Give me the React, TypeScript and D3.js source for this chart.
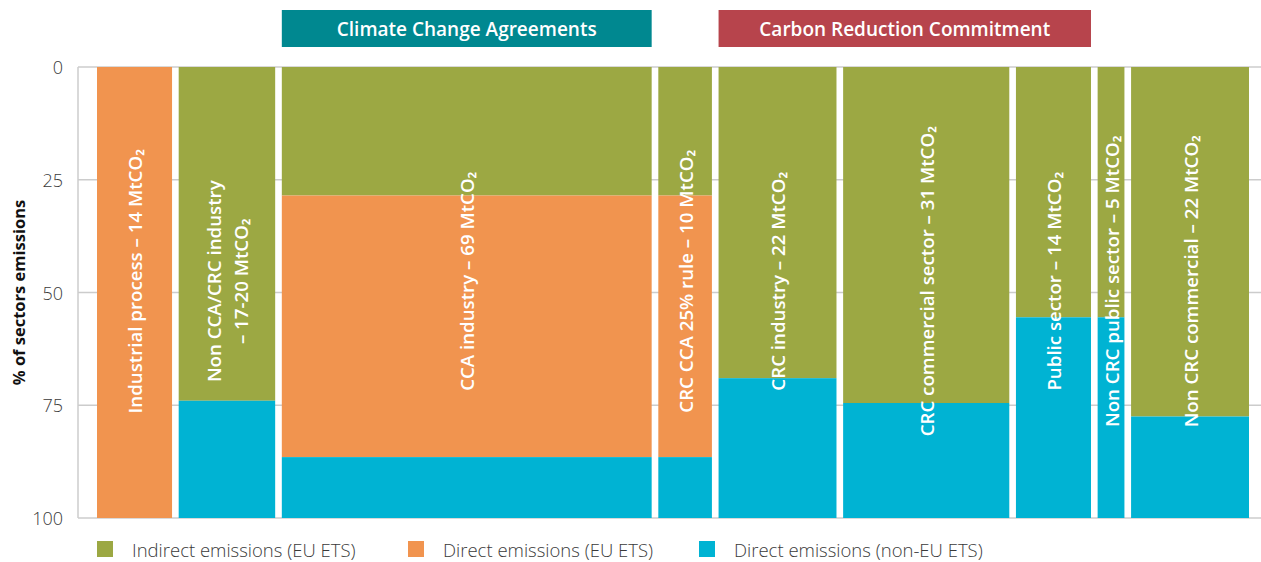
import React from "react";
import * as d3 from "d3";

const categories = [
  ["Industrial process – 14 MtCO₂"],
  ["Non CCA/CRC industry", "– 17-20 MtCO₂"],
  ["CCA industry – 69 MtCO₂"],
  ["CRC CCA 25% rule – 10 MtCO₂"],
  ["CRC industry – 22 MtCO₂"],
  ["CRC commercial sector – 31 MtCO₂"],
  ["Public sector – 14 MtCO₂"],
  ["Non CRC public sector – 5 MtCO₂"],
  ["Non CRC commercial – 22 MtCO₂"],
];
const emissionsMt = [14, 18, 69, 10, 22, 31, 14, 5, 22];
const indirectEU = [0, 74, 28.5, 28.5, 69, 74.5, 55.5, 55.5, 77.5];
const directEU = [100, 0, 58, 58, 0, 0, 0, 0, 0];
const directNonEU = [0, 26, 13.5, 13.5, 31, 25.5, 44.5, 44.5, 22.5];
const yTicks = [0, 25, 50, 75, 100];
const seriesNames = ["Indirect emissions (EU ETS)", "Direct emissions (EU ETS)", "Direct emissions (non-EU ETS)"];
const seriesColors = ["#9ca843", "#f1944f", "#00b3d3"];
const groups = [
  { name: "Climate Change Agreements", from: 2, to: 2, color: "#008890" },
  { name: "Carbon Reduction Commitment", from: 4, to: 6, color: "#b7444c" },
];

const W = 1261, H = 562;
const plotLeft = 78, plotRight = 1261, top = 67, bottom = 518;
const barsLeft = 97, barsRight = 1249;
const gapMt = 1.24;

export default function App() {
  const total = d3.sum(emissionsMt) + gapMt * (emissionsMt.length - 1);
  const x = d3.scaleLinear().domain([0, total]).range([barsLeft, barsRight]);
  const y = d3.scaleLinear().domain([0, 100]).range([top, bottom]);

  const starts: number[] = [];
  let acc = 0;
  emissionsMt.forEach((w) => { starts.push(acc); acc += w + gapMt; });

  const rows = emissionsMt.map((_, i) => ({
    indirect: indirectEU[i], direct: directEU[i], nonEU: directNonEU[i],
  }));
  const stack = d3.stack<any>().keys(["indirect", "direct", "nonEU"])(rows);

  const font = "'Open Sans', 'Noto Sans', sans-serif";
  const legendX = [97, 408, 699];

  return (
    <svg width={W} height={H} style={{ position: "absolute", left: 0, top: 0, fontFamily: font }}>
      <rect width={W} height={H} fill="#fff" />
      {groups.map((g) => {
        const x0 = x(starts[g.from]);
        const x1 = x(starts[g.to] + emissionsMt[g.to]);
        return (
          <g key={g.name}>
            <rect x={x0} y={10} width={x1 - x0} height={37} fill={g.color} />
            <text x={(x0 + x1) / 2} y={28.5} textAnchor="middle" dominantBaseline="central"
              fill="#fff" fontSize={19} fontWeight={600}>{g.name}</text>
          </g>
        );
      })}
      {yTicks.map((t) => (
        <g key={t}>
          <line x1={plotLeft} x2={plotRight} y1={y(t)} y2={y(t)} stroke="#cccccc" strokeWidth={1.5} />
          <text x={63} y={y(t)} textAnchor="end" dominantBaseline="central" fontSize={18}
            fontWeight={300} fill="#3a3a3a">{t}</text>
        </g>
      ))}
      <line x1={plotLeft} x2={plotLeft} y1={top} y2={bottom} stroke="#cccccc" strokeWidth={1.5} />
      {stack.map((s, si) => (
        <g key={si} fill={seriesColors[si]}>
          {s.map((d, i) => (
            d[1] - d[0] > 0 ? (
              <rect key={i} x={x(starts[i])} width={x(starts[i] + emissionsMt[i]) - x(starts[i])}
                y={y(d[0])} height={y(d[1]) - y(d[0])} />
            ) : null
          ))}
        </g>
      ))}
      {categories.map((lines, i) => {
        const cx = (x(starts[i]) + x(starts[i] + emissionsMt[i])) / 2;
        const cy = y(47.5);
        return (
          <g key={i} transform={`translate(${cx},${cy}) rotate(-90)`}>
            {lines.map((l, li) => (
              <text key={li} x={0} y={(li - (lines.length - 1) / 2) * 26.5} textAnchor="middle"
                dominantBaseline="central" fill="#fff" fontSize={18.7} fontWeight={600}>{l}</text>
            ))}
          </g>
        );
      })}
      <text transform={`translate(18,${y(50)}) rotate(-90)`} textAnchor="middle" dominantBaseline="central"
        fontSize={16.5} fontWeight={700} fill="#111">% of sectors emissions</text>
      {seriesNames.map((n, i) => (
        <g key={n}>
          <rect x={legendX[i]} y={541} width={16} height={16} fill={seriesColors[i]} />
          <text x={legendX[i] + 35} y={549.5} dominantBaseline="central" fontSize={18.5}
            fontWeight={300} fill="#3a3a3a">{n}</text>
        </g>
      ))}
    </svg>
  );
}
